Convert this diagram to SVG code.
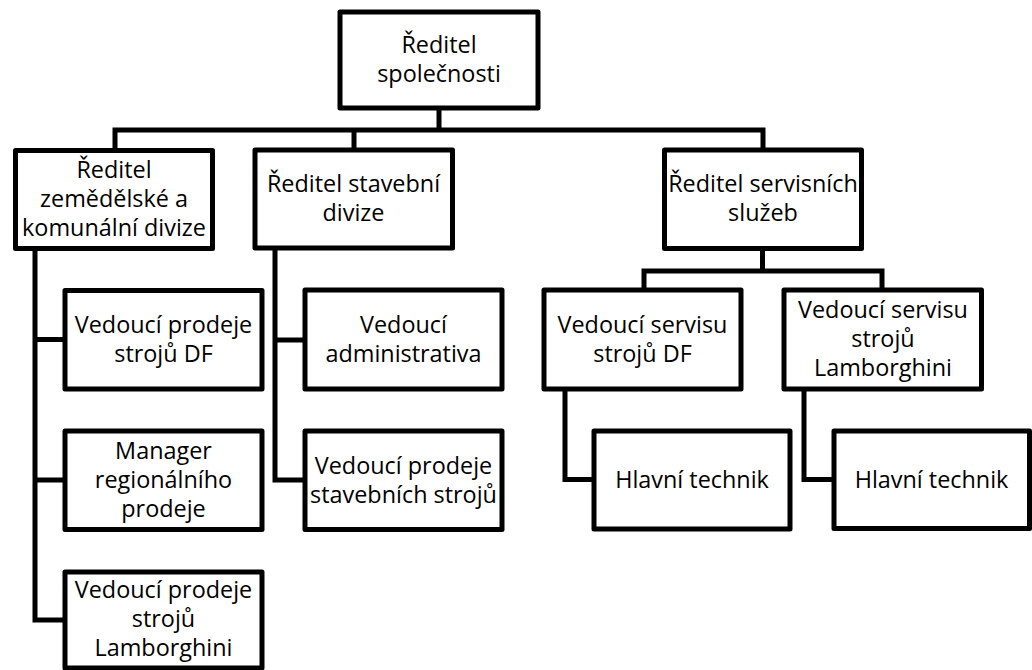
<svg xmlns="http://www.w3.org/2000/svg" width="1032" height="670" viewBox="0 0 1032 670">
<style>
.box{fill:#fff;stroke:#000;stroke-width:5;stroke-linejoin:round}
.con{fill:none;stroke:#000;stroke-width:5;stroke-linejoin:miter;stroke-linecap:butt}
text{font-family:"Open Sans",Lato,sans-serif;font-size:23.4px;fill:#000;text-anchor:middle}
</style>
<rect width="1032" height="670" fill="#fff"/>
<g id="connectors">
<path class="con" d="M439,108V130M115,150V130H763V150M354,130V150"/>
<path class="con" d="M35,248V620.5M32.5,339.5H65M32.5,480H65M32.5,620H65"/>
<path class="con" d="M275,248V480M272.5,340H305M272.5,480H305"/>
<path class="con" d="M762.5,248V271M644,290V271H882V290"/>
<path class="con" d="M565,389V479.5H594M804,389V479.5H834"/>
</g>
<g id="n-ceo"><rect class="box" x="340" y="12" width="198" height="96"/><text x="439" y="53">Ředitel</text><text x="439" y="82">společnosti</text></g>
<g id="n-agri"><rect class="box" x="15.5" y="150.5" width="197" height="98"/><text x="114" y="178">Ředitel</text><text x="114" y="207">zemědělské a</text><text x="114" y="236">komunální divize</text></g>
<g id="n-build"><rect class="box" x="255" y="150" width="197.5" height="98"/><text x="353.5" y="192">Ředitel stavební</text><text x="353.5" y="221">divize</text></g>
<g id="n-serv"><rect class="box" x="664.5" y="150" width="197" height="98.5"/><text x="763" y="192">Ředitel servisních</text><text x="763" y="221">služeb</text></g>
<g id="n-df"><rect class="box" x="65" y="290.5" width="197" height="98.5"/><text x="163.5" y="333">Vedoucí prodeje</text><text x="163.5" y="362">strojů DF</text></g>
<g id="n-reg"><rect class="box" x="65" y="431" width="197" height="98.5"/><text x="163.5" y="459">Manager</text><text x="163.5" y="488">regionálního</text><text x="163.5" y="517">prodeje</text></g>
<g id="n-lamb"><rect class="box" x="65" y="572" width="197" height="96"/><text x="163.5" y="598">Vedoucí prodeje</text><text x="163.5" y="627">strojů</text><text x="163.5" y="656">Lamborghini</text></g>
<g id="n-admin"><rect class="box" x="305" y="290" width="197" height="99"/><text x="403.5" y="333">Vedoucí</text><text x="403.5" y="362">administrativa</text></g>
<g id="n-bsales"><rect class="box" x="305" y="431" width="197" height="98.5"/><text x="403.5" y="474">Vedoucí prodeje</text><text x="403.5" y="503">stavebních strojů</text></g>
<g id="n-sdf"><rect class="box" x="544" y="290" width="197" height="99"/><text x="642.5" y="333">Vedoucí servisu</text><text x="642.5" y="362">strojů DF</text></g>
<g id="n-slamb"><rect class="box" x="784" y="290" width="197.5" height="99"/><text x="883" y="318">Vedoucí servisu</text><text x="883" y="347">strojů</text><text x="883" y="376">Lamborghini</text></g>
<g id="n-tech1"><rect class="box" x="594" y="431" width="196" height="98"/><text x="692" y="488">Hlavní technik</text></g>
<g id="n-tech2"><rect class="box" x="834" y="431" width="195.5" height="97.5"/><text x="931.5" y="488">Hlavní technik</text></g>
</svg>
